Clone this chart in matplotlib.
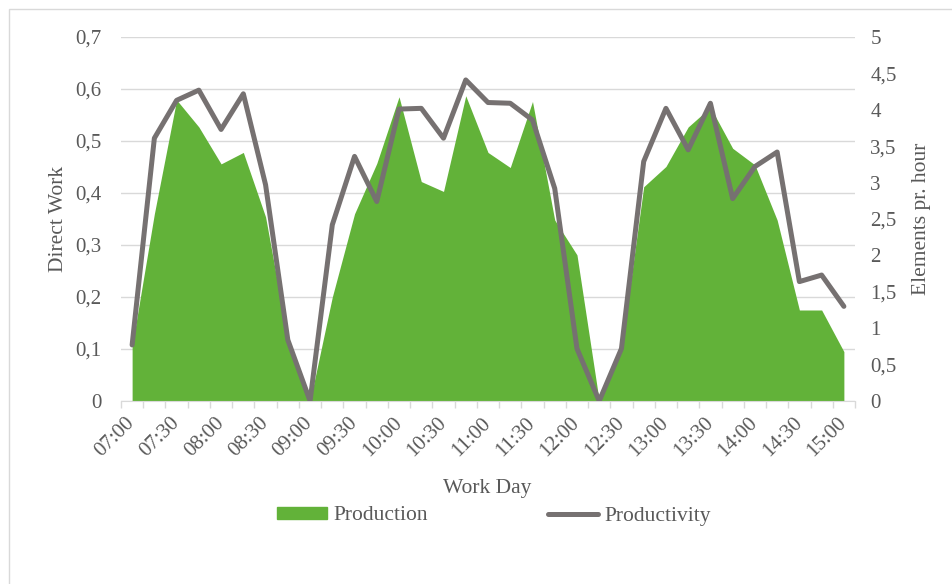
import matplotlib
matplotlib.use("Agg")
import matplotlib.pyplot as plt
from matplotlib.patches import Rectangle
from matplotlib.lines import Line2D
from matplotlib.patches import Patch

plt.rcParams['font.family'] = ['Liberation Serif', 'DejaVu Serif']

times = ["07:00", "07:15", "07:30", "07:45", "08:00", "08:15", "08:30", "08:45",
         "09:00", "09:15", "09:30", "09:45", "10:00", "10:15", "10:30", "10:45",
         "11:00", "11:15", "11:30", "11:45", "12:00", "12:15", "12:30", "12:45",
         "13:00", "13:15", "13:30", "13:45", "14:00", "14:15", "14:30", "14:45",
         "15:00"]
production = [0.105, 0.36, 0.579, 0.527, 0.456, 0.478, 0.354, 0.12, 0.0, 0.2,
              0.36, 0.457, 0.585, 0.422, 0.403, 0.587, 0.478, 0.449, 0.576, 0.348,
              0.281, 0.0, 0.1, 0.412, 0.451, 0.527, 0.565, 0.486, 0.454, 0.348,
              0.175, 0.175, 0.095]
productivity = [0.77, 3.61, 4.13, 4.27, 3.73, 4.22, 2.97, 0.84, 0.0, 2.42,
                3.36, 2.74, 4.01, 4.02, 3.61, 4.41, 4.10, 4.09, 3.86, 2.92,
                0.72, 0.0, 0.72, 3.29, 4.02, 3.45, 4.09, 2.78, 3.22, 3.42,
                1.64, 1.73, 1.30]

green = "#62b239"
grey = "#767171"
txt = "#595959"
grid = "#d9d9d9"
fs_tick = 15
fs_lab = 15.5

fig = plt.figure(figsize=(9.52, 5.84), dpi=100)
fig.patches.append(Rectangle((9 / 952, -0.1), 1.2, 1 - 9 / 584 + 0.1, transform=fig.transFigure,
                             fill=False, edgecolor=grid, lw=1))
ax1 = fig.add_axes([121 / 952, 1 - 401 / 584, 734 / 952, 364 / 584])
x = list(range(len(times)))

ax1.fill_between(x, production, 0, color=green, lw=0, zorder=2)
ax1.set_xlim(-0.5, len(times) - 0.5)
ax1.set_ylim(0, 0.7)
ax1.set_yticks([i / 10 for i in range(8)])
ax1.set_yticklabels(["0"] + ["0,%d" % i for i in range(1, 8)])
ax1.grid(axis='y', color=grid, lw=1, zorder=0)
ax1.set_axisbelow(True)

ax1.set_xticks([i - 0.5 for i in range(len(times) + 1)], minor=True)
ax1.set_xticks(x[::2])
ax1.set_xticklabels(times[::2], rotation=45, ha='right', va='center', rotation_mode='anchor')
ax1.tick_params(axis='x', which='major', length=0, pad=14, labelsize=fs_tick, labelcolor=txt)
ax1.tick_params(axis='x', which='minor', length=5, color=grid, width=1)
ax1.tick_params(axis='y', length=0, pad=14, labelsize=fs_tick, labelcolor=txt)
for s in ['top', 'left', 'right']:
    ax1.spines[s].set_visible(False)
ax1.spines['bottom'].set_color(grid)

ax2 = ax1.twinx()
ax2.plot(x, productivity, color=grey, lw=3.6, solid_joinstyle='round', solid_capstyle='round', zorder=3)
ax2.set_ylim(0, 5)
ax2.set_yticks([i / 2 for i in range(11)])
ax2.set_yticklabels(["0", "0,5", "1", "1,5", "2", "2,5", "3", "3,5", "4", "4,5", "5"])
ax2.tick_params(axis='y', length=0, pad=11, labelsize=fs_tick, labelcolor=txt)
for s in ax2.spines.values():
    s.set_visible(False)

ax1.set_ylabel("Direct Work", fontsize=fs_lab, color=txt, labelpad=5)
ax2.set_ylabel("Elements pr. hour", fontsize=fs_lab, color=txt, labelpad=11)
fig.text(487 / 952, 1 - 488 / 584, "Work Day", ha='center', va='center', fontsize=fs_lab, color=txt)

handles = [Patch(color=green, label="Production"),
           Line2D([0], [0], color=grey, lw=3.6, solid_capstyle='round', label="Productivity")]
fig.legend(handles=handles, loc='center', bbox_to_anchor=(494 / 952, 1 - 516 / 584), ncol=2,
           frameon=False, fontsize=fs_lab, labelcolor=txt, handlelength=2.3, handleheight=0.5,
           handletextpad=0.3, columnspacing=5.6)

fig.savefig("out.png", dpi=100)
